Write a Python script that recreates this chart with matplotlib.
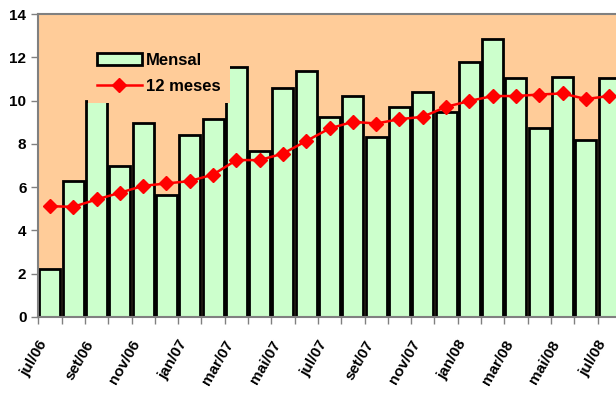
import numpy as np
import matplotlib.pyplot as plt

# meses (jul/06 a jul/08)
meses = ['jul/06', 'ago/06', 'set/06', 'out/06', 'nov/06', 'dez/06',
         'jan/07', 'fev/07', 'mar/07', 'abr/07', 'mai/07', 'jun/07',
         'jul/07', 'ago/07', 'set/07', 'out/07', 'nov/07', 'dez/07',
         'jan/08', 'fev/08', 'mar/08', 'abr/08', 'mai/08', 'jun/08', 'jul/08']

mensal = [2.24, 6.29, 9.98, 6.97, 8.97, 5.66, 8.43, 9.13, 11.56, 7.66, 10.56, 11.35,
          9.25, 10.22, 8.33, 9.71, 10.38, 9.48, 11.79, 12.83, 11.02, 8.71, 11.07, 8.20, 11.02]

doze_meses = [5.12, 5.09, 5.43, 5.74, 6.06, 6.17, 6.28, 6.58, 7.25, 7.25, 7.55, 8.13,
              8.71, 9.02, 8.94, 9.14, 9.25, 9.71, 9.98, 10.21, 10.21, 10.28, 10.33, 10.07, 10.21]

plt.rcParams['font.family'] = ['Liberation Sans', 'DejaVu Sans']
plt.rcParams['font.weight'] = 'bold'

fig = plt.figure(figsize=(6.16, 4.03), dpi=100)
ax = fig.add_axes([38.3 / 616, 1 - 317 / 403, 25 * 23.3 / 616, 303 / 403])
ax.set_facecolor('#FFCC99')

x = np.arange(len(meses))
barras = ax.bar(x, mensal, width=0.9, color='#CCFFCC', edgecolor='black', linewidth=2,
                label='Mensal', zorder=2)
linha, = ax.plot(x, doze_meses, color='#FF0000', linewidth=1.8, marker='D', markersize=7.5,
                 label='12 meses', zorder=3)

ax.set_xlim(-0.5, len(meses) - 0.5)
ax.set_ylim(0, 14)
ax.set_yticks(np.arange(0, 15, 2))

# rotulos a cada dois meses, marcas entre as barras
ax.set_xticks(x[::2])
ax.set_xticklabels(meses[::2], rotation=60, ha='right', va='bottom',
                   rotation_mode='anchor')
ax.set_xticks(np.arange(-0.5, len(meses), 1), minor=True)
ax.tick_params(axis='x', which='major', length=0, pad=20, labelsize=11)
ax.tick_params(axis='x', which='minor', length=5, width=1, color='#808080')
ax.tick_params(axis='y', length=5, width=1, color='#808080', labelsize=11)

for s in ['top', 'left', 'bottom']:
    ax.spines[s].set_color('#808080')
    ax.spines[s].set_linewidth(1.5)
ax.spines['right'].set_visible(False)

leg = ax.legend([barras, linha], ['Mensal', '12 meses'], loc='upper left',
                bbox_to_anchor=(0.085, 0.903), borderaxespad=0, frameon=True,
                fancybox=False, facecolor='#FFCC99', edgecolor='none', framealpha=1,
                prop={'weight': 'bold', 'size': 12}, handlelength=2.7,
                handletextpad=0.25, labelspacing=0.7, borderpad=0.55)

plt.savefig('out.png', dpi=100)
